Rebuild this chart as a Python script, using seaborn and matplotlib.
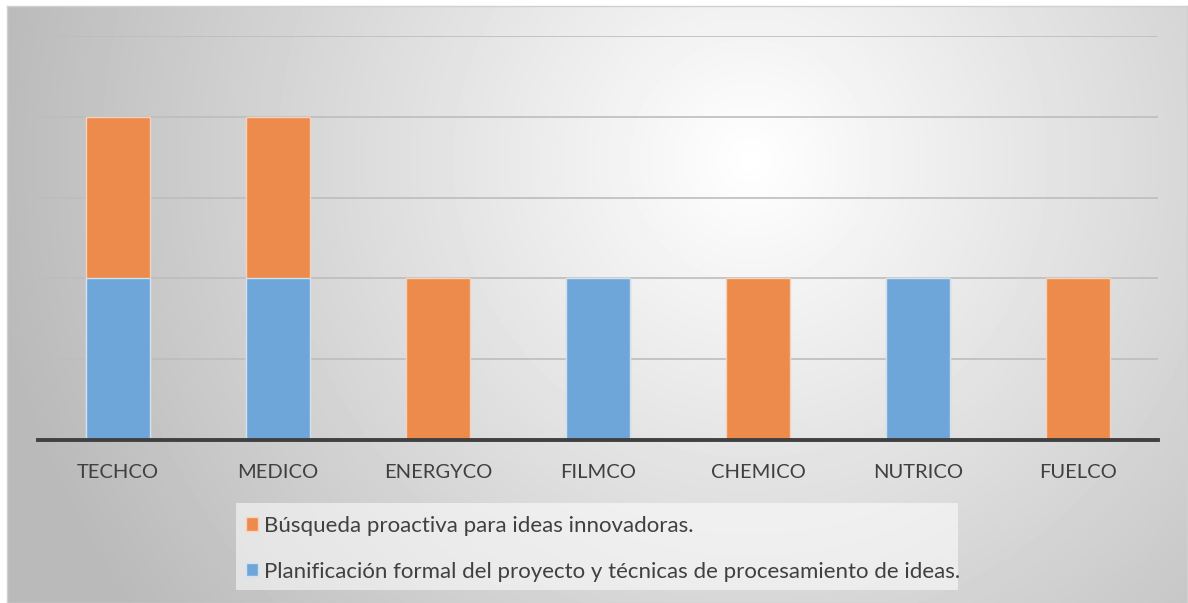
import numpy as np
import pandas as pd
import matplotlib
matplotlib.use("Agg")
import matplotlib.pyplot as plt
from matplotlib.patches import Patch, Rectangle
import seaborn as sns

# Data
categories = ["TECHCO", "MEDICO", "ENERGYCO", "FILMCO", "CHEMICO", "NUTRICO", "FUELCO"]
busqueda = [2, 2, 2, 0, 2, 0, 2]        # stacked on top
planificacion = [2, 2, 0, 2, 0, 2, 0]   # bottom segment
series_labels = ["Búsqueda proactiva para ideas innovadoras.",
                 "Planificación formal del proyecto y técnicas de procesamiento de ideas."]

ORANGE = "#EC8B4C"
BLUE = "#6FA6D9"
TEXT = "#404040"

sns.set_theme(style="white")
plt.rcParams["font.family"] = ["Lato", "DejaVu Sans"]

W, H = 1188, 603
fig = plt.figure(figsize=(W / 100, H / 100), dpi=100, facecolor="white")

# Chart-area background: soft radial gradient inside a light frame
bx0, by0, bx1, by1 = 7, 6, 1187, 603
bg = fig.add_axes([bx0 / W, 1 - by1 / H, (bx1 - bx0) / W, (by1 - by0) / H])
yy, xx = np.mgrid[by0:by1, bx0:bx1]
cx, cy = 750, 160
r = np.hypot(xx - cx, (yy - cy) * 1.0)
r = np.clip(r / 760.0, 0, 1)
val = 1.0 - 0.27 * r
bg.imshow(val, cmap="gray", vmin=0, vmax=1, aspect="auto", interpolation="bilinear")
bg.set_xticks([]); bg.set_yticks([])
for s in bg.spines.values():
    s.set_color("#D0D0D0")
    s.set_linewidth(1)

# Plot area
px0, px1, py_top, py_bot = 38, 1158, 36, 440
ax = fig.add_axes([px0 / W, 1 - py_bot / H, (px1 - px0) / W, (py_bot - py_top) / H])
ax.set_facecolor("none")

df = pd.DataFrame({"empresa": categories,
                   "total": np.array(busqueda) + np.array(planificacion),
                   "base": planificacion})

sns.barplot(data=df, x="empresa", y="total", color=ORANGE, saturation=1,
            width=0.4, edgecolor="#F6D2BA", linewidth=1, ax=ax, zorder=3)
sns.barplot(data=df, x="empresa", y="base", color=BLUE, saturation=1,
            width=0.4, edgecolor="#CFE1F2", linewidth=1, ax=ax, zorder=4)

ax.set_ylim(0, 5)
ax.set_xlim(-0.5, len(categories) - 0.5)
ax.set_yticks([1, 2, 3, 4, 5])
ax.yaxis.grid(True, color="#BDBDBD", linewidth=1.2, zorder=0)
ax.set_axisbelow(True)
ax.tick_params(axis="y", left=False, labelleft=False)
ax.tick_params(axis="x", bottom=False, labelsize=14.5, labelcolor=TEXT, pad=11)
ax.set_xlabel("")
ax.set_ylabel("")
for side in ["left", "right", "top"]:
    ax.spines[side].set_visible(False)
ax.spines["bottom"].set_color("#404040")
ax.spines["bottom"].set_linewidth(2.8)
ax.spines["bottom"].set_zorder(6)

# Legend box below the plot
lx0, ly0, lx1, ly1 = 236, 503, 958, 590
fig.patches.append(Rectangle((lx0 / W, 1 - ly1 / H), (lx1 - lx0) / W, (ly1 - ly0) / H,
                             transform=fig.transFigure, facecolor="white", alpha=0.55,
                             edgecolor="none", zorder=1))
handles = [Patch(facecolor=ORANGE, edgecolor="#F6D2BA"), Patch(facecolor=BLUE, edgecolor="#CFE1F2")]
fig.legend(handles, series_labels, loc="upper left",
           bbox_to_anchor=(lx0 / W, 1 - (ly0 + 3) / H),
           frameon=False, fontsize=16.0, labelcolor=TEXT,
           handlelength=0.55, handleheight=0.55, handletextpad=0.25,
           labelspacing=1.15, borderaxespad=0, borderpad=0.45)

fig.savefig("out.png", dpi=100, facecolor="white")
